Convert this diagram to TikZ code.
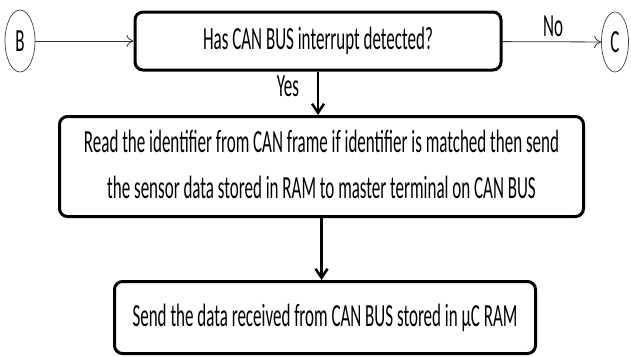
\documentclass[tikz,border=0pt]{standalone}
\usepackage{fontspec}
\setmainfont{Carlito}
\usepackage{graphicx}
\usetikzlibrary{shapes.geometric,arrows.meta}
\newcommand{\tall}[1]{\scalebox{1}[1.9]{#1}}

\begin{document}
\begin{tikzpicture}[x=1pt,y=-1pt,
  every node/.style={font=\fontsize{17}{24}\selectfont},
  stepbox/.style={draw,line width=3pt,rounded corners=8pt,fill=white,inner sep=0pt},
  connector/.style={draw=black!75,ellipse,line width=0.7pt,inner sep=0pt},
  thin arrow/.style={-{To[length=7pt,width=12pt]},line width=0.8pt,black!80},
  thick arrow/.style={-{Straight Barb[length=9pt,width=12pt]},line width=2.5pt}]
\useasboundingbox (0,0) rectangle (631,356);

\node[connector,minimum width=30pt,minimum height=62pt] (B) at (20,41) {\tall{B}};
\node[connector,minimum width=27pt,minimum height=60pt] (C) at (615,42) {\tall{C}};
\node[stepbox,minimum width=366pt,minimum height=58pt] (Q) at (318,41) {\tall{Has CAN BUS interrupt detected?}};
\node[stepbox,minimum width=524pt,minimum height=100pt] (R) at (321.5,166.5)
  {\tall{\begin{tabular}{@{}c@{}}Read the identifier from CAN frame if identifier is matched then send\\
   the sensor data stored in RAM to master terminal on CAN BUS\end{tabular}}};
\node[stepbox,minimum width=421pt,minimum height=72pt] (S) at (325,317.5) {\tall{Send the data received from CAN BUS stored in µC RAM}};
\node (no) at (553,26) {\tall{No}};
\node (yes) at (288,86) {\tall{Yes}};

\draw[thin arrow] (B) -- (Q);
\draw[thin arrow] (Q) -- (C);
\draw[thick arrow] (Q.south) -- (Q.south |- R.north);
\draw[thick arrow] (R.south) -- (R.south |- S.north);
\end{tikzpicture}
\end{document}
